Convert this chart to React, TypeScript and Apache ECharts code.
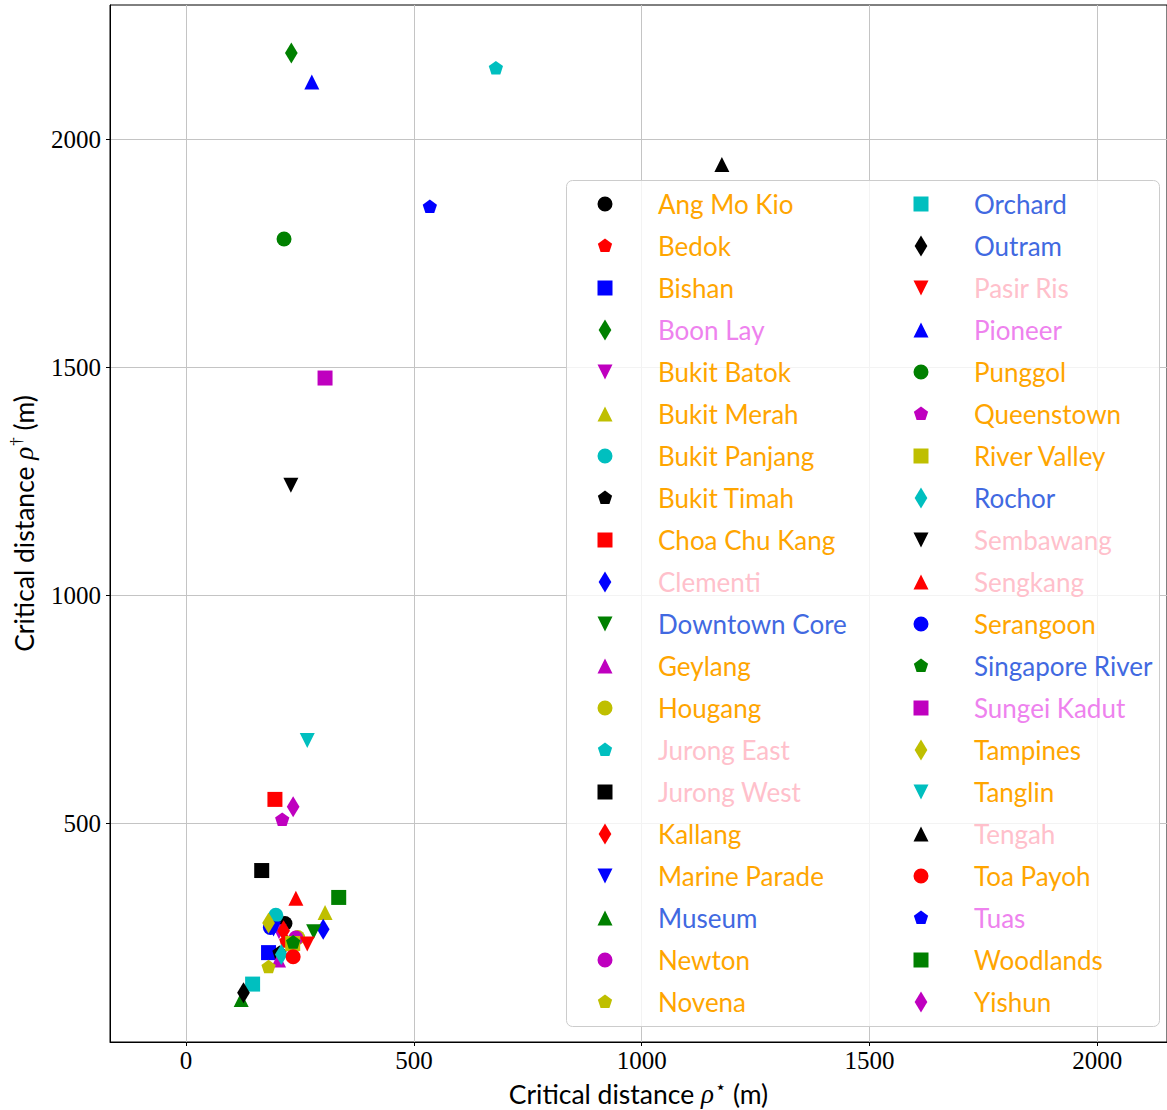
import React, { useEffect, useRef } from "react";
import * as echarts from "echarts";

const districts = [
  "Ang Mo Kio", "Bedok", "Bishan", "Boon Lay", "Bukit Batok", "Bukit Merah", "Bukit Panjang",
  "Bukit Timah", "Choa Chu Kang", "Clementi", "Downtown Core", "Geylang", "Hougang", "Jurong East",
  "Jurong West", "Kallang", "Marine Parade", "Museum", "Newton", "Novena", "Orchard", "Outram",
  "Pasir Ris", "Pioneer", "Punggol", "Queenstown", "River Valley", "Rochor", "Sembawang", "Sengkang",
  "Serangoon", "Singapore River", "Sungei Kadut", "Tampines", "Tanglin", "Tengah", "Toa Payoh", "Tuas",
  "Woodlands", "Yishun",
];

// critical distance rho-star (m), x axis
const rhoStar = [
  217, 220, 181, 231, 204, 305, 197,
  205, 195, 301, 280, 203, 245, 680,
  166, 214, 192, 121, 241, 181, 146, 126,
  266, 276, 215, 211, 234, 209, 230, 241,
  185, 235, 305, 181, 266, 1176, 235, 535,
  335, 235,
];

// critical distance rho-dagger (m), y axis
const rhoDagger = [
  280, 240, 216, 2189, 262, 304, 298,
  215, 552, 267, 262, 200, 249, 2155,
  396, 264, 268, 113, 248, 184, 147, 128,
  235, 2125, 1781, 507, 236, 212, 1241, 335,
  271, 238, 1476, 281, 681, 1944, 207, 1851,
  337, 536,
];

const markers = [
  "o", "p", "s", "d", "v", "^", "o", "p", "s", "d", "v", "^", "o", "p", "s", "d", "v", "^", "o", "p",
  "s", "d", "v", "^", "o", "p", "s", "d", "v", "^", "o", "p", "s", "d", "v", "^", "o", "p", "s", "d",
];

const markerColors = [
  "#000000", "#ff0000", "#0000ff", "#008000", "#bf00bf", "#bfbf00", "#00bfbf",
  "#000000", "#ff0000", "#0000ff", "#008000", "#bf00bf", "#bfbf00", "#00bfbf",
  "#000000", "#ff0000", "#0000ff", "#008000", "#bf00bf", "#bfbf00", "#00bfbf",
  "#000000", "#ff0000", "#0000ff", "#008000", "#bf00bf", "#bfbf00", "#00bfbf",
  "#000000", "#ff0000", "#0000ff", "#008000", "#bf00bf", "#bfbf00", "#00bfbf",
  "#000000", "#ff0000", "#0000ff", "#008000", "#bf00bf",
];

const OR = "#ffa500";
const VI = "#ee82ee";
const PK = "#ffc0cb";
const RB = "#4169e1";
const labelColors = [
  OR, OR, OR, VI, OR, OR, OR, OR, OR, PK,
  RB, OR, OR, PK, PK, OR, OR, RB, OR, OR,
  RB, RB, PK, VI, OR, OR, OR, RB, PK, PK,
  OR, RB, VI, OR, OR, PK, OR, VI, OR, OR,
];

const FRAME = "M0 0M21 21";
const SYMBOLS: Record<string, string> = {
  o: "path://" + FRAME + "M3 10.5A7.5 7.5 0 1 1 18 10.5A7.5 7.5 0 1 1 3 10.5Z",
  p: "path://" + FRAME + "M10.5 3L17.63 8.18L14.91 16.57L6.09 16.57L3.37 8.18Z",
  s: "path://" + FRAME + "M3 3L18 3L18 18L3 18Z",
  d: "path://" + FRAME + "M10.5 0L16.85 10.5L10.5 21L4.15 10.5Z",
  v: "path://" + FRAME + "M3 3L18 3L10.5 18Z",
  "^": "path://" + FRAME + "M10.5 3L18 18L3 18Z",
};

const xTicks = [0, 500, 1000, 1500, 2000];
const yTicks = [500, 1000, 1500, 2000];

export default function App() {
  const ref = useRef<HTMLDivElement>(null);

  useEffect(() => {
    if (!ref.current) return;
    const chart = echarts.init(ref.current, undefined, { renderer: "svg" });

    const series = districts.map((name, i) => ({
      type: "scatter",
      name,
      data: [[rhoStar[i], rhoDagger[i]]],
      symbol: SYMBOLS[markers[i]],
      symbolSize: 21,
      itemStyle: { color: markerColors[i], opacity: 1 },
      emphasis: { disabled: true },
      z: 2,
    }));

    const legendBase = {
      orient: "vertical",
      top: 190,
      itemWidth: 96,
      itemHeight: 21,
      itemGap: 14,
      padding: 0,
      selectedMode: false,
      z: 5,
      textStyle: { fontFamily: "Lato", fontSize: 26, lineHeight: 28 },
    };

    const rich = {
      t: { fontFamily: "Lato", fontSize: 26.5, lineHeight: 30, color: "#000" },
      r: { fontFamily: "Liberation Serif", fontStyle: "italic", fontSize: 27, lineHeight: 30, color: "#000" },
      s: { fontFamily: "DejaVu Sans", fontSize: 18, lineHeight: 14, padding: [0, 0, 15, 1], color: "#000" },
      d: { fontFamily: "Liberation Serif", fontSize: 17, lineHeight: 14, padding: [0, 0, 15, 1], color: "#000" },
    };

    const fmt = (ticks: number[]) => (v: number) => {
      const r = Math.round(v);
      return ticks.indexOf(r) >= 0 && Math.abs(v - r) < 1e-6 ? String(r) : "";
    };

    chart.setOption({
      animation: false,
      backgroundColor: "#ffffff",
      grid: {
        left: 110,
        top: 5,
        width: 1057,
        height: 1037,
        show: true,
        borderColor: "#000000",
        borderWidth: 1,
        backgroundColor: "transparent",
        outerBoundsMode: "none",
        containLabel: false,
      },
      xAxis: {
        type: "value",
        min: -167,
        max: 2153,
        name: "{t|Critical distance }{r|ρ}{s|⋆}{t| (m)}",
        nameLocation: "middle",
        nameGap: 29,
        nameTextStyle: { rich },
        axisLine: { show: true, onZero: false, lineStyle: { color: "#000", width: 1 } },
        axisTick: { show: true, length: 4, lineStyle: { color: "#000" }, customValues: xTicks },
        axisLabel: {
          show: true,
          margin: 6,
          fontFamily: "Liberation Serif",
          fontSize: 25,
          color: "#000",
          formatter: fmt(xTicks),
          customValues: xTicks,
        },
        splitLine: { show: true, lineStyle: { color: "#c4c4c4", width: 1 } },
      },
      yAxis: {
        type: "value",
        min: 20,
        max: 2294,
        name: "{t|Critical distance }{r|ρ}{d|†}{t| (m)}",
        nameLocation: "middle",
        nameGap: 71,
        nameTextStyle: { rich },
        axisLine: { show: true, onZero: false, lineStyle: { color: "#000", width: 1 } },
        axisTick: { show: true, length: 4, lineStyle: { color: "#000" }, customValues: yTicks },
        axisLabel: {
          show: true,
          margin: 9,
          fontFamily: "Liberation Serif",
          fontSize: 25,
          color: "#000",
          formatter: fmt(yTicks),
          customValues: yTicks,
        },
        splitLine: { show: true, lineStyle: { color: "#c4c4c4", width: 1 } },
      },
      graphic: [
        {
          type: "rect",
          z: 3,
          shape: { x: 566.5, y: 180.5, width: 593, height: 846, r: 6 },
          style: { fill: "rgba(255,255,255,0.8)", stroke: "#cccccc", lineWidth: 1 },
        },
      ],
      legend: [
        {
          ...legendBase,
          left: 594.5,
          data: districts.slice(0, 20).map((n, i) => ({ name: n, textStyle: { color: labelColors[i] } })),
        },
        {
          ...legendBase,
          left: 910.5,
          data: districts.slice(20).map((n, i) => ({ name: n, textStyle: { color: labelColors[i + 20] } })),
        },
      ],
      series,
    });

    return () => chart.dispose();
  }, []);

  return (
    <div
      ref={ref}
      style={{ position: "absolute", left: 0, top: 0, width: 1167, height: 1110, background: "#fff" }}
    />
  );
}
